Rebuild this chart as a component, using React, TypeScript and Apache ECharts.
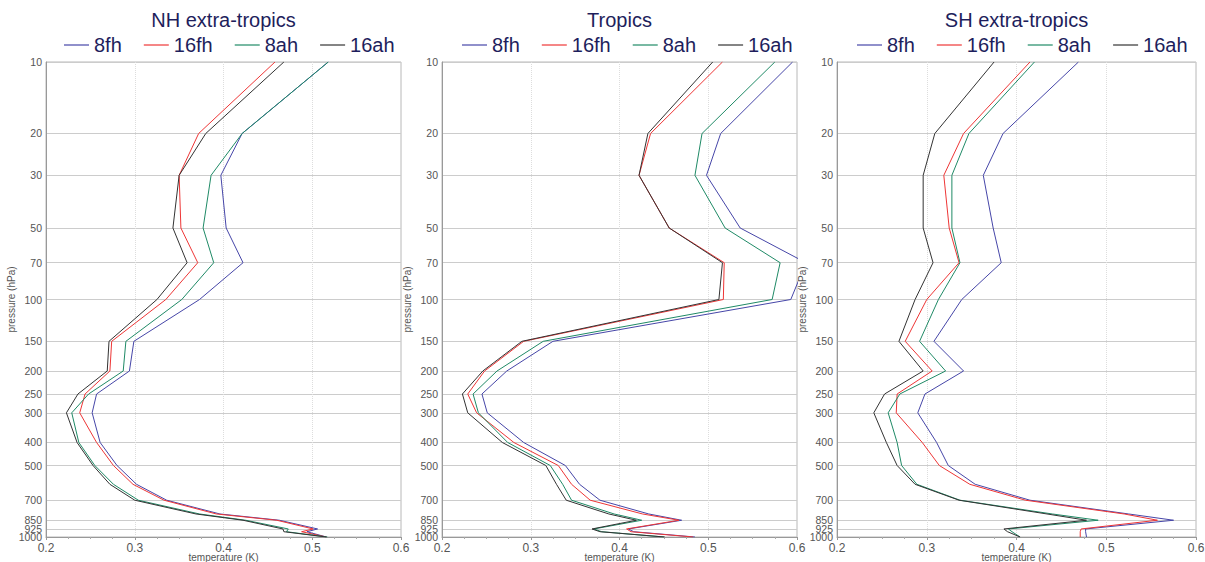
import React, { useEffect, useRef } from "react";
import * as echarts from "echarts";

const levels = [10, 20, 30, 50, 70, 100, 150, 200, 250, 300, 400, 500, 600, 700, 800, 850, 925, 950, 1000];
const pressureTicks = [10, 20, 30, 50, 70, 100, 150, 200, 250, 300, 400, 500, 700, 850, 925, 1000];
const panelTitles = ["NH extra-tropics", "Tropics", "SH extra-tropics"];
const seriesNames = ["8fh", "16fh", "8ah", "16ah"];
const seriesColors = ["#4646a8", "#ee3636", "#1f8a66", "#333333"];

const nh8fh = [0.518, 0.421, 0.397, 0.403, 0.422, 0.373, 0.299, 0.294, 0.257, 0.252, 0.261, 0.28, 0.302, 0.336, 0.396, 0.463, 0.506, 0.494, 0.516];
const nh16fh = [0.458, 0.372, 0.35, 0.352, 0.371, 0.335, 0.274, 0.272, 0.244, 0.238, 0.257, 0.276, 0.298, 0.333, 0.392, 0.46, 0.501, 0.488, 0.516];
const nh8ah = [0.518, 0.421, 0.386, 0.377, 0.389, 0.353, 0.29, 0.287, 0.248, 0.229, 0.237, 0.255, 0.276, 0.304, 0.373, 0.425, 0.473, 0.471, 0.517];
const nh16ah = [0.468, 0.38, 0.35, 0.343, 0.359, 0.325, 0.271, 0.269, 0.236, 0.223, 0.235, 0.253, 0.272, 0.3, 0.369, 0.422, 0.467, 0.468, 0.516];

const tr8fh = [0.595, 0.514, 0.498, 0.536, 0.61, 0.593, 0.325, 0.273, 0.245, 0.251, 0.292, 0.339, 0.355, 0.378, 0.433, 0.47, 0.41, 0.416, 0.485];
const tr16fh = [0.516, 0.435, 0.422, 0.456, 0.518, 0.517, 0.292, 0.248, 0.229, 0.239, 0.281, 0.331, 0.346, 0.367, 0.426, 0.467, 0.408, 0.413, 0.483];
const tr8ah = [0.575, 0.493, 0.485, 0.519, 0.581, 0.572, 0.314, 0.262, 0.235, 0.241, 0.274, 0.322, 0.336, 0.346, 0.394, 0.425, 0.371, 0.38, 0.45];
const tr16ah = [0.505, 0.432, 0.422, 0.456, 0.516, 0.512, 0.29, 0.246, 0.223, 0.229, 0.268, 0.317, 0.329, 0.34, 0.388, 0.419, 0.369, 0.378, 0.451];

const sh8fh = [0.469, 0.385, 0.363, 0.374, 0.383, 0.339, 0.308, 0.341, 0.298, 0.29, 0.311, 0.324, 0.354, 0.415, 0.525, 0.575, 0.477, 0.477, 0.478];
const sh16fh = [0.415, 0.341, 0.319, 0.325, 0.336, 0.3, 0.276, 0.306, 0.267, 0.266, 0.295, 0.314, 0.348, 0.41, 0.52, 0.557, 0.472, 0.471, 0.471];
const sh8ah = [0.42, 0.347, 0.328, 0.328, 0.337, 0.313, 0.292, 0.321, 0.27, 0.257, 0.267, 0.272, 0.289, 0.337, 0.44, 0.491, 0.391, 0.395, 0.404];
const sh16ah = [0.375, 0.309, 0.296, 0.296, 0.307, 0.287, 0.269, 0.296, 0.253, 0.241, 0.255, 0.267, 0.287, 0.336, 0.434, 0.478, 0.386, 0.39, 0.404];

const panelData = [
  [nh8fh, nh16fh, nh8ah, nh16ah],
  [tr8fh, tr16fh, tr8ah, tr16ah],
  [sh8fh, sh16fh, sh8ah, sh16ah],
];

const gridLefts = [46, 442, 837];
const gridWidths = [355, 355, 359];
const legendLefts = [64, 462, 857];
const FONT = "Liberation Sans";
const NAVY = "#1e1e5c";

export default function App() {
  const ref = useRef<HTMLDivElement>(null);
  useEffect(() => {
    document.body.style.margin = "0";
    if (!ref.current) return;
    const chart = echarts.init(ref.current, null, { renderer: "svg" });
    const tickLogs = pressureTicks.map((p) => Math.log10(p));
    // split labels into two alternating sets so that neighbouring labels never get hidden
    const labelsA = tickLogs.filter((_, k) => k % 2 === 0);
    const labelsB = tickLogs.filter((_, k) => k % 2 === 1);
    const grids = gridLefts.map((l, i) => ({
      left: l,
      top: 62,
      width: gridWidths[i],
      height: 475,
      outerBoundsMode: "none",
      containLabel: false,
      show: true,
      borderColor: "#b8b8b8",
      borderWidth: 1,
    }));
    const xAxes = gridLefts.map((_, i) => ({
      type: "value",
      gridIndex: i,
      min: 0.2,
      max: 0.6,
      interval: 0.1,
      name: "temperature (K)",
      nameLocation: "middle",
      nameGap: 15,
      nameMoveOverlap: false,
      nameTextStyle: { fontSize: 10, color: "#555", fontFamily: FONT },
      axisLine: { show: true, lineStyle: { color: "#999" } },
      axisTick: { show: true, length: 3, lineStyle: { color: "#999" } },
      minorTick: { show: true, splitNumber: 4, length: 2, lineStyle: { color: "#aaa" } },
      axisLabel: {
        fontSize: 12,
        color: "#555",
        margin: 5,
        fontFamily: FONT,
        showMinLabel: true,
        showMaxLabel: true,
        formatter: (v: number) => v.toFixed(1),
      },
      splitLine: {
        show: true,
        showMinLine: false,
        showMaxLine: false,
        lineStyle: { color: "#dddddd", type: "dotted", width: 1 },
      },
    }));
    const labelFmt = (v: number) => String(Math.round(Math.pow(10, v)));
    const yAxes: any[] = [];
    gridLefts.forEach((_, i) => {
      yAxes.push({
        type: "value",
        gridIndex: i,
        min: 1,
        max: 3,
        inverse: true,
        name: "pressure (hPa)",
        nameLocation: "middle",
        nameGap: 30,
        nameRotate: 90,
        nameTextStyle: { fontSize: 10, color: "#555", fontFamily: FONT },
        axisLine: { show: true, lineStyle: { color: "#999" } },
        axisTick: { show: false, customValues: tickLogs },
        axisLabel: {
          customValues: labelsA,
          fontSize: 10.5,
          color: "#555",
          margin: 4,
          fontFamily: FONT,
          showMinLabel: true,
          showMaxLabel: true,
          formatter: labelFmt,
        },
        splitLine: { show: true, lineStyle: { color: "#cccccc", width: 1 } },
      });
    });
    gridLefts.forEach((_, i) => {
      yAxes.push({
        type: "value",
        gridIndex: i,
        position: "left",
        min: 1,
        max: 3,
        inverse: true,
        axisLine: { show: false },
        axisTick: { show: false, customValues: labelsB },
        axisLabel: {
          customValues: labelsB,
          fontSize: 10.5,
          color: "#555",
          margin: 4,
          fontFamily: FONT,
          showMinLabel: true,
          showMaxLabel: true,
          formatter: labelFmt,
        },
        splitLine: { show: false },
      });
    });
    const series: any[] = [];
    panelData.forEach((sets, pi) => {
      sets.forEach((vals, si) => {
        series.push({
          type: "line",
          name: seriesNames[si],
          xAxisIndex: pi,
          yAxisIndex: pi,
          symbol: "none",
          showSymbol: false,
          clip: true,
          color: seriesColors[si],
          itemStyle: { color: seriesColors[si] },
          lineStyle: { width: 1, color: seriesColors[si] },
          data: levels.map((p, k) => [vals[k], Math.log10(p)]),
        });
      });
    });
    const legends = legendLefts.map((l) => ({
      data: seriesNames,
      left: l,
      top: 35,
      padding: 0,
      icon: "rect",
      itemWidth: 25,
      itemHeight: 1.2,
      itemGap: 22,
      textStyle: { fontSize: 20, color: NAVY, fontFamily: FONT },
    }));
    const titles = panelTitles.map((t, i) => ({
      type: "text",
      x: gridLefts[i] + gridWidths[i] / 2,
      y: 20,
      style: {
        text: t,
        fill: NAVY,
        font: `20px "${FONT}"`,
        textAlign: "center",
        textVerticalAlign: "middle",
      },
    }));
    chart.setOption({
      animation: false,
      backgroundColor: "#ffffff",
      grid: grids,
      xAxis: xAxes,
      yAxis: yAxes,
      legend: legends,
      series,
      graphic: titles,
    });
    return () => chart.dispose();
  }, []);
  return (
    <div
      ref={ref}
      style={{ position: "absolute", left: 0, top: 0, width: 1205, height: 562 }}
    />
  );
}
